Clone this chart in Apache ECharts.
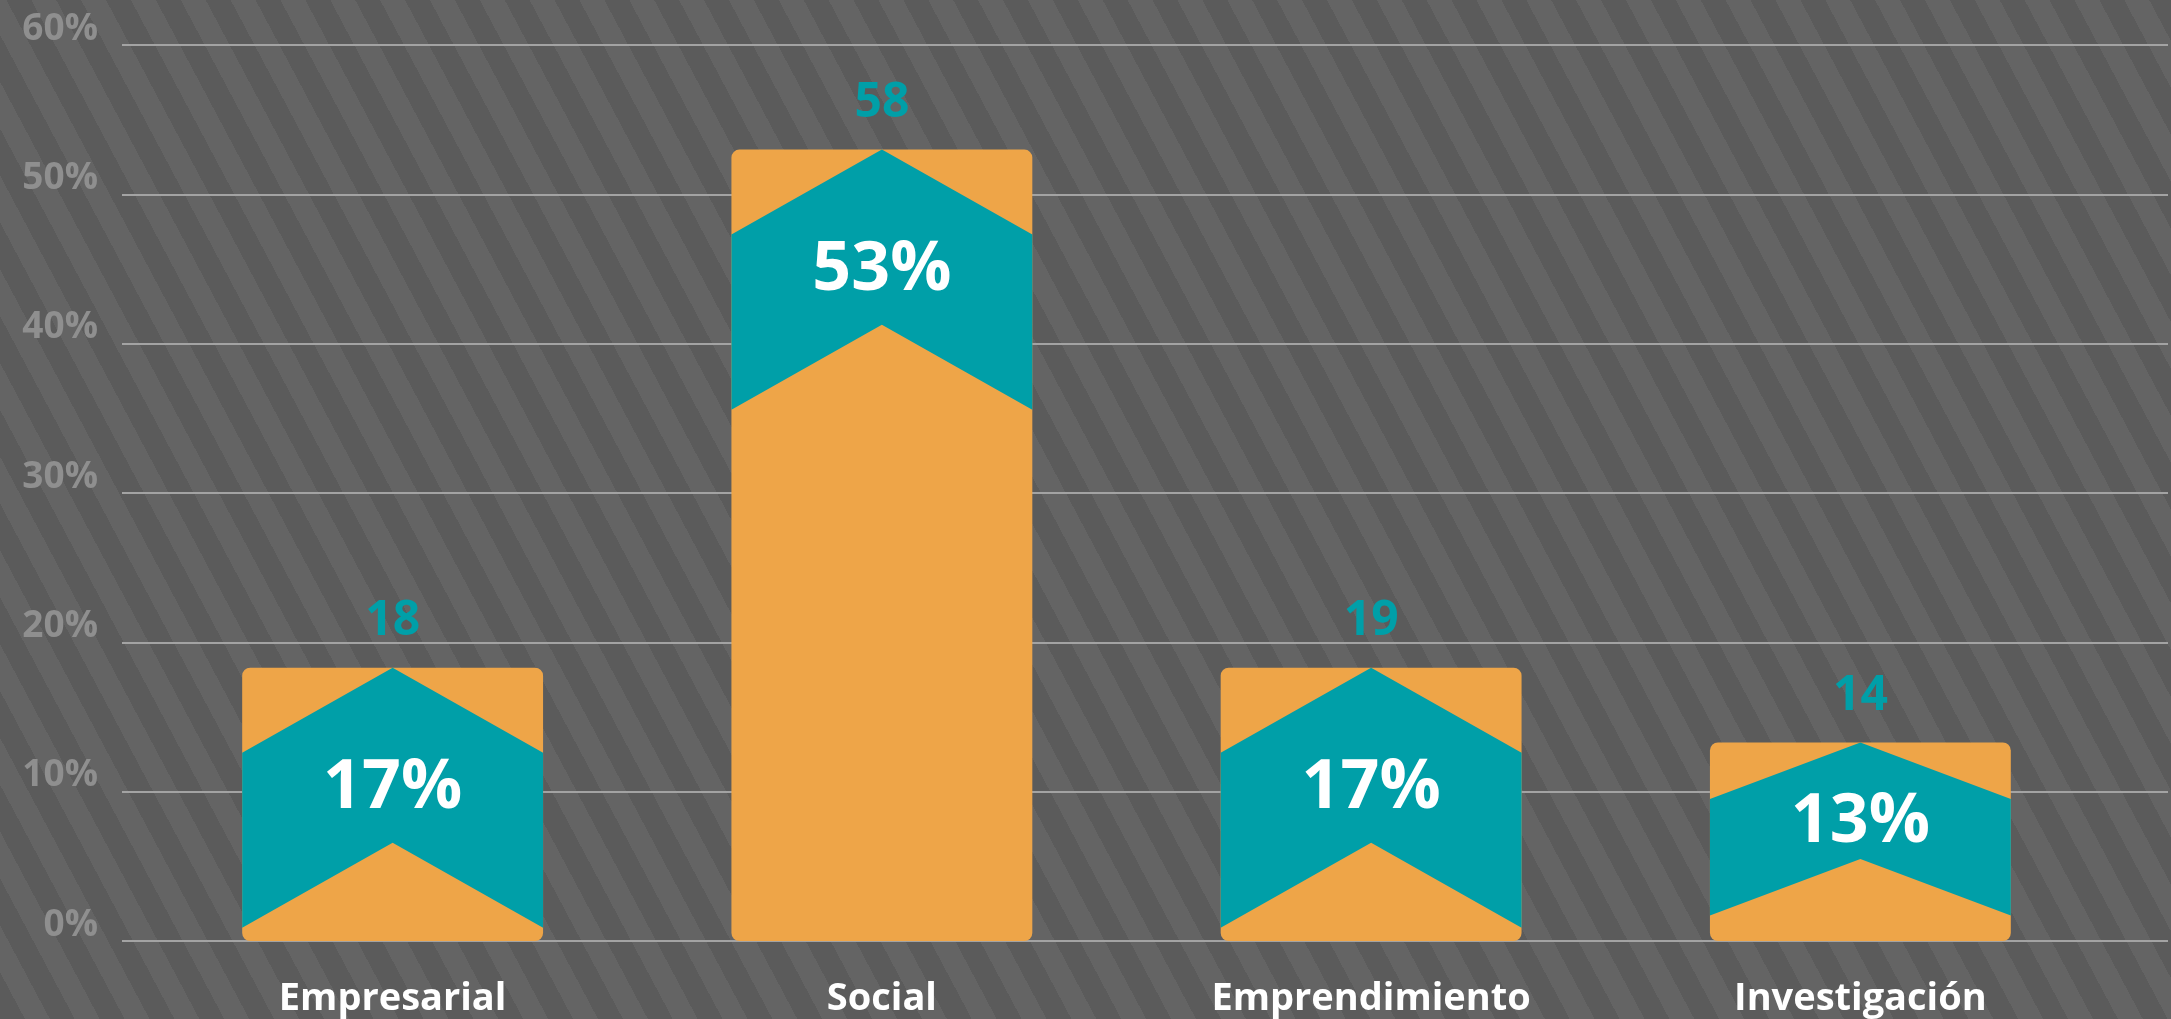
<!DOCTYPE html>
<html>
<head>
<meta charset="utf-8">
<script src="https://cdn.jsdelivr.net/npm/echarts@6/dist/echarts.min.js"></script>
<style>
  html, body { margin: 0; padding: 0; }
  #chart {
    width: 2171px;
    height: 1019px;
    background: repeating-linear-gradient(62deg, #5b5b5b 0px, #5b5b5b 22px, #646464 22px, #646464 44px);
  }
</style>
</head>
<body>
<div id="chart"></div>
<script>
// data
const categories = ["Empresarial", "Social", "Emprendimiento", "Investigación"];
const barValues = [18.3, 53.0, 18.3, 13.3];        // bar height, % of axis
const pctLabels = ["17%", "53%", "17%", "13%"];     // text inside the chevron
const counts = [18, 58, 19, 14];                     // teal number above each bar
const yTicks = [0, 10, 20, 30, 40, 50, 60];

const ORANGE = "#eea548";
const TEAL = "#009fa8";
const FONT = "'Open Sans', 'Noto Sans', sans-serif";

const chart = echarts.init(document.getElementById("chart"), null, { renderer: "canvas" });

function renderBar(params, api) {
  const idx = params.dataIndex;
  const top = api.coord([api.value(0), api.value(1)]);
  const base = api.coord([api.value(0), 0]);
  const bw = api.size([1, 0])[0] * 0.615;
  const cx = top[0];
  const x0 = cx - bw / 2;
  const x1 = cx + bw / 2;
  const ty = top[1];
  const h = base[1] - ty;
  // chevron gets flatter on short bars
  const drop = Math.max(10, Math.min(85, h - 142));
  const thick = drop * 2.06;
  return {
    type: "group",
    children: [
      {
        type: "rect",
        shape: { x: x0, y: ty, width: bw, height: h, r: 8 },
        style: { fill: ORANGE }
      },
      {
        type: "polygon",
        shape: {
          points: [
            [cx, ty], [x1, ty + drop], [x1, ty + drop + thick],
            [cx, ty + thick], [x0, ty + drop + thick], [x0, ty + drop]
          ]
        },
        style: { fill: TEAL }
      },
      {
        type: "text",
        style: {
          text: pctLabels[idx], x: cx, y: ty + thick * 0.69,
          align: "center", verticalAlign: "middle",
          fill: "#ffffff", fontSize: 68, fontWeight: "bold", fontFamily: FONT
        }
      },
      {
        type: "text",
        style: {
          text: String(counts[idx]), x: cx, y: ty - 22,
          align: "center", verticalAlign: "bottom",
          fill: TEAL, fontSize: 48, fontWeight: "bold", fontFamily: FONT
        }
      }
    ]
  };
}

chart.setOption({
  animation: false,
  backgroundColor: "transparent",
  grid: [
    { left: 122, right: 3, top: 45, bottom: 78 },
    { left: 148, right: 66, top: 45, bottom: 78 }
  ],
  xAxis: [
    { gridIndex: 0, type: "category", data: categories, show: false },
    {
      gridIndex: 1, type: "category", data: categories,
      axisLine: { show: false }, axisTick: { show: false },
      axisLabel: {
        color: "#ffffff", fontSize: 38, fontWeight: "bold", fontFamily: FONT,
        margin: 39, interval: 0
      }
    }
  ],
  yAxis: [
    {
      gridIndex: 0, type: "value", min: yTicks[0], max: yTicks[yTicks.length - 1], interval: 10,
      axisLine: { show: false }, axisTick: { show: false },
      axisLabel: {
        formatter: "{value}%", color: "#8f8f8f", fontSize: 37, fontWeight: "bold",
        fontFamily: FONT, margin: 24, verticalAlign: "bottom", lineHeight: 32
      },
      splitLine: { lineStyle: { color: "#a3a3a3", width: 2 } }
    },
    { gridIndex: 1, type: "value", min: 0, max: 60, show: false }
  ],
  series: [
    {
      type: "custom",
      xAxisIndex: 1, yAxisIndex: 1,
      renderItem: renderBar,
      data: barValues.map((v, i) => [i, v])
    }
  ]
});
</script>
</body>
</html>
